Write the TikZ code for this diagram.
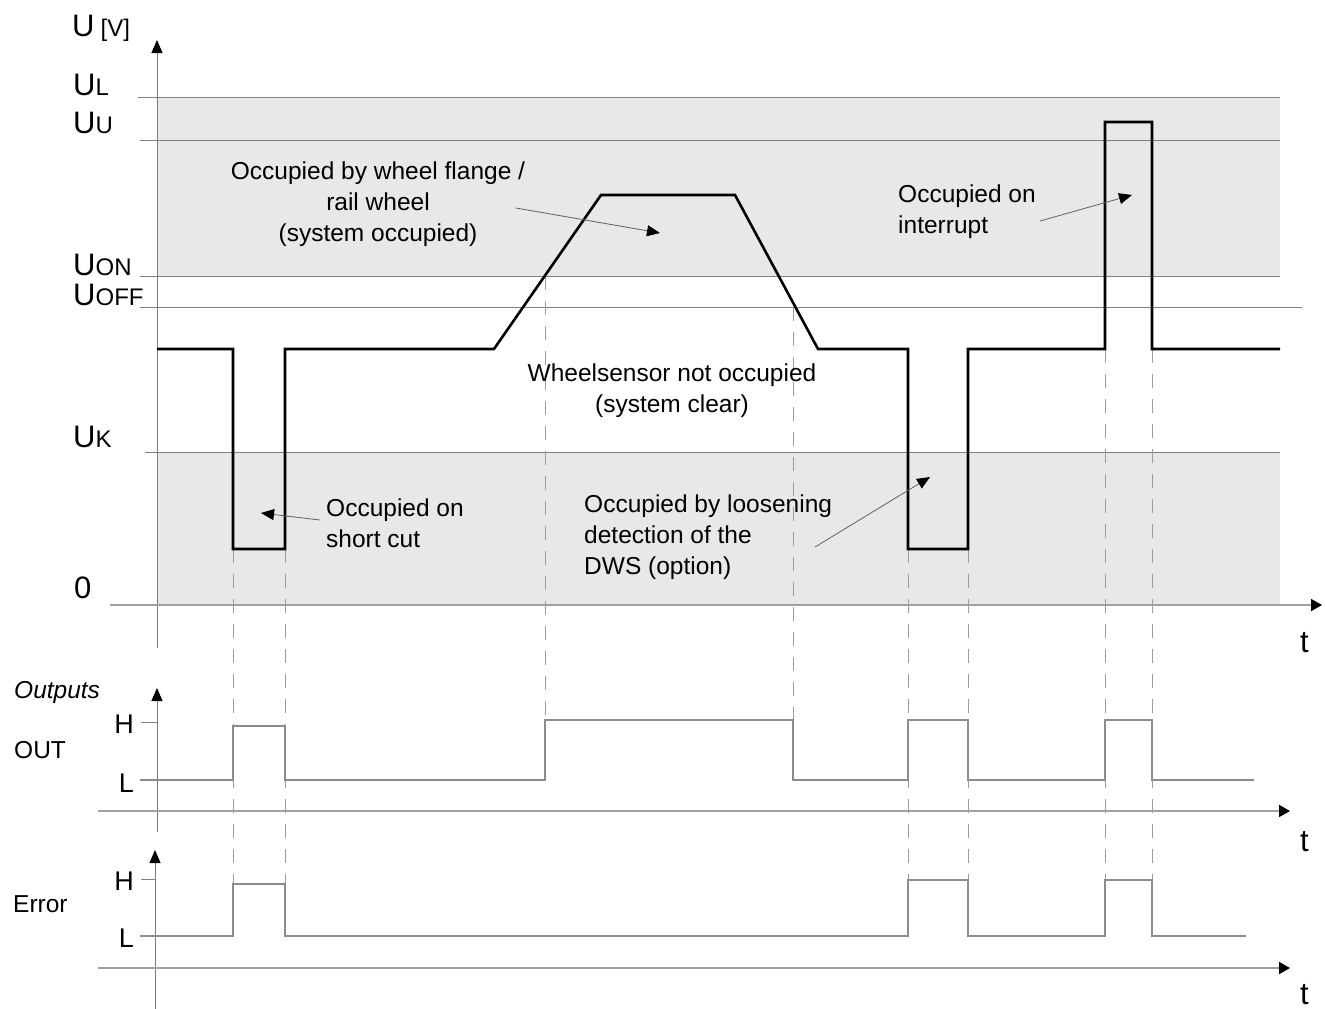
\documentclass[tikz,border=0pt]{standalone}
\usepackage{fontspec}
\setmainfont{Liberation Sans}
\usepackage{xcolor}
\usepackage{tikz}
\usetikzlibrary{calc}
\usetikzlibrary{arrows.meta}
\usetikzlibrary{positioning}

\definecolor{bandgray}{HTML}{E8E8E8}
\definecolor{levelgray}{HTML}{808080}
\definecolor{axisgray}{HTML}{7A7A7A}
\definecolor{zerogray}{HTML}{A0A0A0}
\definecolor{dashgray}{HTML}{9C9C9C}
\definecolor{outgray}{HTML}{8C8C8C}
\definecolor{notegray}{HTML}{606060}

\newcommand{\ulev}[1]{U{\fontsize{24}{24}\selectfont #1}}

\tikzset{
 txt/.style={font=\fontsize{24.5}{31}\selectfont, inner sep=0pt},
 hl/.style={font=\fontsize{27}{27}\selectfont, inner sep=0pt},
 big/.style={font=\fontsize{31}{31}\selectfont, inner sep=0pt},
 level/.style={draw=levelgray, line width=1pt},
 axis/.style={draw=axisgray, line width=1pt, -{Triangle[length=13pt, width=11pt, color=black]}},
 zeroaxis/.style={draw=zerogray, line width=1.6pt, -{Triangle[length=11pt, width=12pt, color=black]}},
 guide/.style={draw=dashgray, line width=1pt, dash pattern=on 14pt off 11pt},
 signal/.style={draw=black, line width=2.6pt, line join=miter},
 outsig/.style={draw=outgray, line width=1.5pt},
 note/.style={draw=notegray, line width=0.8pt, -{Triangle[length=13pt, width=11pt, color=black]}}
}

\begin{document}
\begin{tikzpicture}[x=1pt, y=-1pt]
 \useasboundingbox (0,0) rectangle (1325,1009);

 % shaded ranges
 \fill [bandgray] (157,97) rectangle (1280,276);
 \fill [bandgray] (157,452) rectangle (1280,605);

 % voltage levels
 \draw [level] (138,97) -- (1280,97);
 \draw [level] (140,140) -- (1280,140);
 \draw [level] (140,276) -- (1280,276);
 \draw [level] (140,307) -- (1302,307);
 \draw [level] (145,452) -- (1280,452);

 % guide lines
 \draw [guide] (233,549) -- (233,884);
 \draw [guide] (285,549) -- (285,884);
 \draw [guide] (545,276) -- (545,720);
 \draw [guide] (793,307) -- (793,720);
 \draw [guide] (908,549) -- (908,880);
 \draw [guide] (968,549) -- (968,880);
 \draw [guide] (1105,349) -- (1105,880);
 \draw [guide] (1152,349) -- (1152,880);

 % axes
 \draw [axis] (157,648) -- (157,40);
 \draw [zeroaxis] (110,605) -- (1322,605);
 \draw [axis] (157,832) -- (157,688);
 \draw [level] (141,722) -- (157,722);
 \draw [zeroaxis] (98,811) -- (1290,811);
 \draw [axis] (155,1009) -- (155,850);
 \draw [level] (141,879) -- (155,879);
 \draw [zeroaxis] (98,968) -- (1290,968);

 % sensor voltage
 \draw [signal] (157,349) -- (233,349) -- (233,549) -- (285,549) -- (285,349)
  -- (494,349) -- (601,195) -- (735,195) -- (818,349) -- (908,349)
  -- (908,549) -- (968,549) -- (968,349) -- (1105,349) -- (1105,122)
  -- (1152,122) -- (1152,349) -- (1280,349);

 % outputs
 \draw [outsig] (140,780) -- (233,780) -- (233,726) -- (285,726) -- (285,780)
  -- (545,780) -- (545,720) -- (793,720) -- (793,780) -- (908,780)
  -- (908,720) -- (968,720) -- (968,780) -- (1105,780) -- (1105,720)
  -- (1152,720) -- (1152,780) -- (1254,780);
 \draw [outsig] (140,936) -- (233,936) -- (233,884) -- (285,884) -- (285,936)
  -- (908,936) -- (908,880) -- (968,880) -- (968,936) -- (1105,936)
  -- (1105,880) -- (1152,880) -- (1152,936) -- (1246,936);

 % axis labels
 \node [big, anchor=base west] (uaxis) at (72,36) {U\hspace{6pt}{\fontsize{24}{24}\selectfont [V]}};
 \node [big, anchor=base west] (ul) at (73,95) {\ulev{L}};
 \node [big, anchor=base west] (uu) at (73,133) {\ulev{U}};
 \node [big, anchor=base west] (uon) at (73,275) {\ulev{ON}};
 \node [big, anchor=base west] (uoff) at (73,305) {\ulev{OFF}};
 \node [big, anchor=base west] (uk) at (73,447) {\ulev{K}};
 \node [big, anchor=base west] (zero) at (74,598) {0};
 \node [big, anchor=base west] (t1) at (1300,652) {t};
 \node [big, anchor=base west] (t2) at (1300,851) {t};
 \node [big, anchor=base west] (t3) at (1300,1004) {t};

 \node [txt, anchor=base west] (outputs) at (14,698) {\itshape Outputs};
 \node [txt, anchor=base west] (outname) at (14,758) {OUT};
 \node [txt, anchor=base west] (errname) at (13,912) {Error};
 \node [hl, anchor=base east] (outh) at (134,733) {H};
 \node [hl, anchor=base east] (outl) at (134,792) {L};
 \node [hl, anchor=base east] (errh) at (134,890) {H};
 \node [hl, anchor=base east] (errl) at (134,947) {L};

 % explanations
 \node [txt, align=center] (flange) at (378,204) {Occupied by wheel flange /\\rail wheel\\(system occupied)};
 \node [txt, align=center] (clear) at (672,391) {Wheelsensor not occupied\\(system clear)};
 \node [txt, align=left, anchor=west] (short) at (326,523) {Occupied on\\short cut};
 \node [txt, align=left, anchor=west] (loosen) at (584,537) {Occupied by loosening\\detection of the\\DWS (option)};
 \node [txt, align=left, anchor=west] (interrupt) at (898,212) {Occupied on\\interrupt};

 \coordinate (flangefrom) at (516,208);
 \coordinate (flangeto) at (660,233);
 \coordinate (shortfrom) at (320,520);
 \coordinate (shortto) at (261,513);
 \coordinate (loosenfrom) at (815,547);
 \coordinate (loosento) at (930,477);
 \coordinate (interfrom) at (1040,221);
 \coordinate (interto) at (1132,195);
 \draw [note] (flangefrom) -- (flangeto);
 \draw [note] (shortfrom) -- (shortto);
 \draw [note] (loosenfrom) -- (loosento);
 \draw [note] (interfrom) -- (interto);
\end{tikzpicture}
\end{document}
